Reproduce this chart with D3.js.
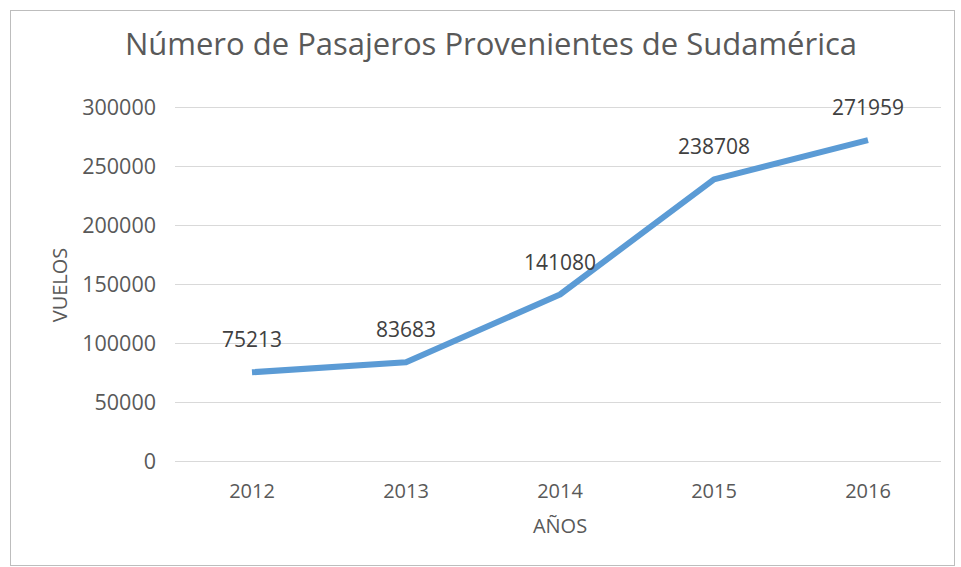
<!DOCTYPE html>
<html>
<head>
<meta charset="utf-8">
<script src="https://cdn.jsdelivr.net/npm/d3@7"></script>
<style>
  body { margin: 0; background: #ffffff; }
  svg text { font-family: "Open Sans", sans-serif; }
</style>
</head>
<body>
<div id="chart"></div>
<script>
// datos
const years = ["2012", "2013", "2014", "2015", "2016"];
const passengers = [75213, 83683, 141080, 238708, 271959];
const yTicks = [0, 50000, 100000, 150000, 200000, 250000, 300000];

const width = 961;
const height = 567;

const svg = d3.select("#chart")
    .append("svg")
    .attr("width", width)
    .attr("height", height);

// marco del grafico
svg.append("rect")
    .attr("x", 10.5)
    .attr("y", 10.5)
    .attr("width", 944)
    .attr("height", 555)
    .attr("fill", "none")
    .attr("stroke", "#bdbdbd")
    .attr("stroke-width", 1);

let x = d3.scaleBand()
    .domain(years)
    .range([175, 945]);

let y = d3.scaleLinear()
    .domain([0, 300000])
    .range([461, 107]);

// lineas de cuadricula
svg.append("g")
    .selectAll("line")
    .data(yTicks)
    .enter()
    .append("line")
    .attr("x1", 175)
    .attr("x2", 941)
    .attr("y1", d => Math.round(y(d)) + 0.5)
    .attr("y2", d => Math.round(y(d)) + 0.5)
    .attr("stroke", "#d9d9d9")
    .attr("stroke-width", 1);

// eje y
let yAxis = svg.append("g")
    .attr("transform", "translate(156,0)")
    .call(d3.axisLeft(y).tickValues(yTicks).tickSize(0).tickPadding(0).tickFormat(d3.format("d")));
yAxis.select(".domain").remove();
yAxis.selectAll("text")
    .style("font-size", "21.5px")
    .attr("fill", "#595959")
    .attr("dy", "0.35em");

// eje x
let xAxis = svg.append("g")
    .attr("transform", "translate(0,461)")
    .call(d3.axisBottom(x).tickSize(0).tickPadding(0));
xAxis.select(".domain").remove();
xAxis.selectAll("text")
    .style("font-size", "20px")
    .attr("fill", "#595959")
    .attr("y", 37)
    .attr("dy", 0);

// titulo
svg.append("text")
    .attr("x", 491)
    .attr("y", 55)
    .attr("text-anchor", "middle")
    .style("font-size", "31px")
    .attr("fill", "#595959")
    .text("Número de Pasajeros Provenientes de Sudamérica");

// titulos de ejes
svg.append("text")
    .attr("x", 560)
    .attr("y", 533)
    .attr("text-anchor", "middle")
    .style("font-size", "20px")
    .attr("fill", "#595959")
    .text("AÑOS");

svg.append("text")
    .attr("transform", "translate(67,285) rotate(-90)")
    .attr("text-anchor", "middle")
    .style("font-size", "20px")
    .attr("fill", "#595959")
    .text("VUELOS");

// serie
let line = d3.line()
    .x((d, i) => x(years[i]) + x.bandwidth() / 2)
    .y(d => y(d));

svg.append("path")
    .datum(passengers)
    .attr("d", line)
    .attr("fill", "none")
    .attr("stroke", "#5b9bd5")
    .attr("stroke-width", 6)
    .attr("stroke-linejoin", "round");

// etiquetas de datos
svg.append("g")
    .selectAll("text")
    .data(passengers)
    .enter()
    .append("text")
    .attr("x", (d, i) => x(years[i]) + x.bandwidth() / 2)
    .attr("y", d => y(d) - 25)
    .attr("text-anchor", "middle")
    .style("font-size", "21px")
    .attr("fill", "#404040")
    .text(d => d);
</script>
</body>
</html>
